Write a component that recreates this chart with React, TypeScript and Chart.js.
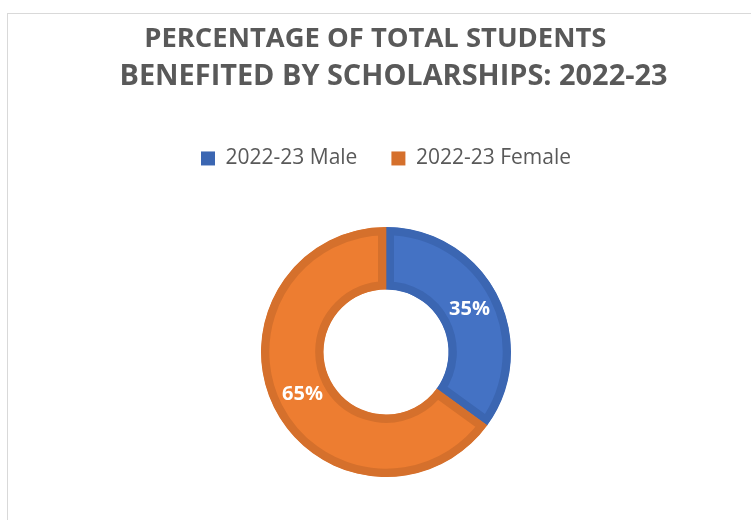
import React, { useEffect, useRef } from "react";
import { Chart, registerables } from "chart.js";

Chart.register(...registerables);

const titleLine = "PERCENTAGE OF TOTAL STUDENTS   ";
const subtitleLine = "  BENEFITED BY SCHOLARSHIPS: 2022-23";
const categories = ["2022-23 Male", "2022-23 Female"];
const shareValues = [35, 65];

const fillColors = ["#4472C4", "#ED7D31"];
const edgeColors = ["#3B66B2", "#D5702C"];

const valueLabelPlugin = {
  id: "valueLabels",
  afterDatasetsDraw(chart: any) {
    const ctx = chart.ctx;
    const meta = chart.getDatasetMeta(0);
    const data = chart.data.datasets[0].data;
    ctx.save();
    ctx.fillStyle = "#FFFFFF";
    ctx.font = "bold 20px 'Open Sans'";
    ctx.textAlign = "center";
    ctx.textBaseline = "middle";
    meta.data.forEach((arc: any, i: number) => {
      const p = arc.getCenterPoint();
      ctx.fillText(data[i] + "%", p.x, p.y);
    });
    ctx.restore();
  },
};

export default function App() {
  const ref = useRef<HTMLCanvasElement | null>(null);

  useEffect(() => {
    if (!ref.current) return;
    const chart = new Chart(ref.current, {
      type: "doughnut",
      data: {
        labels: categories,
        datasets: [
          {
            data: shareValues,
            backgroundColor: fillColors,
            borderColor: edgeColors,
            borderWidth: 8,
            borderAlign: "inner",
            borderJoinStyle: "miter",
          },
        ],
      },
      options: {
        responsive: false,
        animation: false,
        devicePixelRatio: 1,
        cutout: "50%",
        radius: 125,
        layout: { padding: 0 },
        plugins: {
          tooltip: { enabled: false },
          title: {
            display: true,
            text: titleLine,
            color: "#595959",
            font: { family: "'Open Sans'", size: 27.4, weight: "bold", lineHeight: 1.2 },
            padding: { top: 8.5, bottom: 0 },
          },
          subtitle: {
            display: true,
            text: subtitleLine,
            color: "#595959",
            font: { family: "'Open Sans'", size: 28.9, weight: "bold", lineHeight: 1.2 },
            padding: { top: 4.3, bottom: 19.6 },
          },
          legend: {
            display: true,
            position: "top",
            labels: {
              boxWidth: 14,
              boxHeight: 14,
              padding: 34,
              color: "#595959",
              font: { family: "'Open Sans'", size: 21 },
              generateLabels: (c: any) =>
                c.data.labels.map((l: string, i: number) => ({
                  text: l,
                  fillStyle: edgeColors[i],
                  strokeStyle: edgeColors[i],
                  lineWidth: 0,
                  fontColor: "#595959",
                  hidden: false,
                  index: i,
                })),
            },
          },
        },
      },
      plugins: [valueLabelPlugin],
    });
    return () => chart.destroy();
  }, []);

  return (
    <div
      style={{
        position: "fixed",
        left: 0,
        top: 0,
        width: 751,
        height: 520,
        overflow: "hidden",
        background: "#FFFFFF",
      }}
    >
      <div
        style={{
          position: "absolute",
          left: 7,
          top: 13,
          width: 756,
          height: 511,
          border: "1px solid #D9D9D9",
        }}
      >
        <canvas ref={ref} width={756} height={511} style={{ display: "block" }} />
      </div>
    </div>
  );
}
